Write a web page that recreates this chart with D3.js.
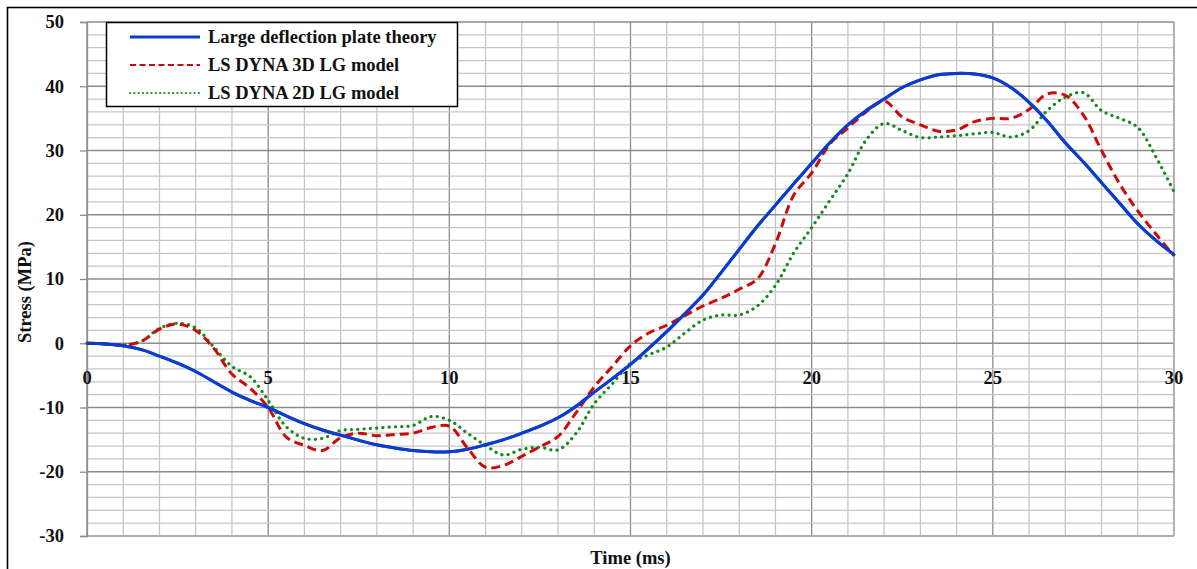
<!DOCTYPE html>
<html>
<head>
<meta charset="utf-8">
<script src="https://cdn.jsdelivr.net/npm/d3@7"></script>
<style>
  html, body { margin: 0; padding: 0; background: #fff; }
  svg { display: block; }
  text { font-family: "Liberation Serif", "Times New Roman", serif; font-weight: bold; fill: #111; }
</style>
</head>
<body>
<svg id="chart" width="1197" height="569"></svg>
<script>
// Time samples (ms)
const time = [0,0.5,1,1.5,2,2.5,3,3.5,4,4.5,5,5.5,6,6.5,7,7.5,8,8.5,9,9.5,10,10.5,11,11.5,12,12.5,13,13.5,14,14.5,15,15.5,16,16.5,17,17.5,18,18.5,19,19.5,20,20.5,21,21.5,22,22.5,23,23.5,24,24.5,25,25.5,26,26.5,27,27.5,28,28.5,29,29.5,30];

// Stress (MPa) for each model
const theory = [0,-0.1,-0.4,-1.0,-2.0,-3.1,-4.4,-6.0,-7.6,-8.9,-10.0,-11.3,-12.5,-13.5,-14.3,-15.1,-15.8,-16.3,-16.7,-16.9,-16.9,-16.5,-15.8,-15.0,-14.0,-12.9,-11.6,-9.8,-7.6,-5.5,-3.3,-0.8,1.8,4.6,7.5,11.0,14.6,18.2,21.5,24.8,28.0,31.2,34.0,36.2,38.0,39.8,41.0,41.8,42.0,41.9,41.3,39.8,37.5,34.6,31.2,28.2,25.0,21.8,18.6,16.0,13.8];
const dyna3d = [0,-0.1,-0.3,0.3,2.2,3.0,2.0,-0.8,-4.8,-7.0,-10.0,-14.6,-15.9,-16.7,-14.7,-14.0,-14.4,-14.2,-14.0,-13.1,-12.9,-16.3,-19.3,-19.0,-17.6,-16.1,-14.5,-10.8,-6.8,-3.6,-0.4,1.6,2.8,4.3,5.8,7.0,8.4,10.0,15.5,23.0,26.5,31.0,33.5,36.0,37.7,35.2,34.0,33.0,33.2,34.5,35.0,35.0,36.4,38.8,38.6,35.5,30.0,24.8,20.6,17.0,13.6];
const dyna2d = [0,-0.1,-0.3,0.3,2.3,3.1,2.4,-0.6,-3.6,-5.2,-8.9,-13.0,-14.8,-14.8,-13.6,-13.4,-13.2,-13.0,-12.8,-11.4,-12.0,-14.0,-15.9,-17.4,-16.5,-16.2,-16.6,-14.0,-9.4,-6.3,-3.1,-1.8,-0.6,1.6,3.6,4.4,4.4,5.8,9.0,14.0,18.0,22.2,26.4,31.6,34.2,33.1,32.0,32.1,32.3,32.6,32.8,32.1,33.1,36.2,38.3,39.0,36.2,35.0,33.6,29.0,23.6];

const xTicks = [0,5,10,15,20,25,30];
const yTicks = [-30,-20,-10,0,10,20,30,40,50];

const seriesNames = ["Large deflection plate theory", "LS DYNA 3D LG model", "LS DYNA 2D LG model"];

const svg = d3.select("#chart");

// Outer frame of the chart
svg.append("rect")
  .attr("x", 7.5).attr("y", 7.5)
  .attr("width", 1200).attr("height", 600)
  .attr("fill", "#fff").attr("stroke", "#000").attr("stroke-width", 1.6);

const plot = { left: 87, right: 1174, top: 22, bottom: 536 };

const x = d3.scaleLinear().domain([0, 30]).range([plot.left, plot.right]);
const y = d3.scaleLinear().domain([-30, 50]).range([plot.bottom, plot.top]);

const grid = svg.append("g");

// Grid: every 1 ms and every 2 MPa, darker on the labelled steps
grid.selectAll("line.v").data(d3.range(0, 31, 1)).enter().append("line")
  .attr("x1", d => x(d)).attr("x2", d => x(d))
  .attr("y1", plot.top).attr("y2", plot.bottom)
  .attr("stroke", d => d % 5 === 0 ? "#8c8c8c" : "#c6c6c6")
  .attr("stroke-width", 1.3);

grid.selectAll("line.h").data(d3.range(-30, 51, 2)).enter().append("line")
  .attr("x1", plot.left).attr("x2", plot.right)
  .attr("y1", d => y(d)).attr("y2", d => y(d))
  .attr("stroke", d => d % 10 === 0 ? "#8c8c8c" : "#c6c6c6")
  .attr("stroke-width", 1.3);

// Right and bottom plot edges
grid.append("line").attr("x1", plot.right).attr("x2", plot.right)
  .attr("y1", plot.top).attr("y2", plot.bottom).attr("stroke", "#b0b0b0").attr("stroke-width", 1.3);
grid.append("line").attr("x1", plot.left).attr("x2", plot.right)
  .attr("y1", plot.bottom).attr("y2", plot.bottom).attr("stroke", "#b0b0b0").attr("stroke-width", 1.3);

// Y axis ticks and labels (plain hyphen for negatives)
const yAxis = d3.axisLeft(y).tickValues(yTicks).tickSize(7).tickPadding(16)
  .tickFormat(d => String(d));
const yg = svg.append("g").attr("transform", `translate(${plot.left},0)`).call(yAxis);
yg.select(".domain").attr("stroke", "#8c8c8c").attr("stroke-width", 1.3);
yg.selectAll(".tick line").attr("stroke", "#8c8c8c").attr("stroke-width", 1.3);
yg.selectAll(".tick text").attr("font-size", 18.5).attr("font-family", "Liberation Serif, serif")
  .attr("font-weight", "bold").attr("fill", "#111");

// X axis labels sit below the zero line
const xg = svg.append("g").attr("transform", `translate(0,${y(0)})`);
xg.selectAll("text").data(xTicks).enter().append("text")
  .attr("x", d => x(d)).attr("y", 41)
  .attr("text-anchor", "middle").attr("font-size", 18.5)
  .text(d => d);

// Axis titles
svg.append("text")
  .attr("transform", `translate(31,292) rotate(-90)`)
  .attr("text-anchor", "middle").attr("font-size", 18.5)
  .text("Stress (MPa)");
svg.append("text")
  .attr("x", x(15)).attr("y", 564)
  .attr("text-anchor", "middle").attr("font-size", 18.5)
  .text("Time (ms)");

// Series lines
const line = vals => d3.line()
  .x((d, i) => x(time[i]))
  .y(d => y(d))
  .curve(d3.curveCatmullRom.alpha(0.5))(vals);

const styles = [
  { color: "#0a3ccf", dash: null, width: 3, cap: "round" },
  { color: "#cc0a0a", dash: "9,5", width: 3, cap: "butt" },
  { color: "#138a1a", dash: "0.1,6.2", width: 3.2, cap: "round" }
];
const seriesData = [theory, dyna3d, dyna2d];

const lines = svg.append("g");
[0, 2, 1].forEach(k => {
  lines.append("path")
    .attr("d", line(seriesData[k]))
    .attr("fill", "none")
    .attr("stroke", styles[k].color)
    .attr("stroke-width", styles[k].width)
    .attr("stroke-dasharray", styles[k].dash)
    .attr("stroke-linecap", styles[k].cap)
    .attr("stroke-linejoin", "round");
});
// theory curve again on top
lines.append("path")
  .attr("d", line(theory))
  .attr("fill", "none")
  .attr("stroke", styles[0].color)
  .attr("stroke-width", styles[0].width)
  .attr("stroke-linejoin", "round");

// Legend
const legend = svg.append("g");
legend.append("rect")
  .attr("x", 106.5).attr("y", 22.5).attr("width", 351).attr("height", 84)
  .attr("fill", "#fff").attr("stroke", "#000").attr("stroke-width", 1.5);
seriesNames.forEach((name, i) => {
  const ly = 37 + i * 28;
  legend.append("line")
    .attr("x1", 130).attr("x2", 200).attr("y1", ly).attr("y2", ly)
    .attr("stroke", styles[i].color)
    .attr("stroke-width", i === 0 ? 3 : 2.2)
    .attr("stroke-dasharray", i === 0 ? null : (i === 1 ? "6,3.5" : "0.1,4.2"))
    .attr("stroke-linecap", i === 2 ? "round" : "butt");
  legend.append("text")
    .attr("x", 208).attr("y", ly + 6)
    .attr("font-size", 18.5)
    .text(name);
});
</script>
</body>
</html>
